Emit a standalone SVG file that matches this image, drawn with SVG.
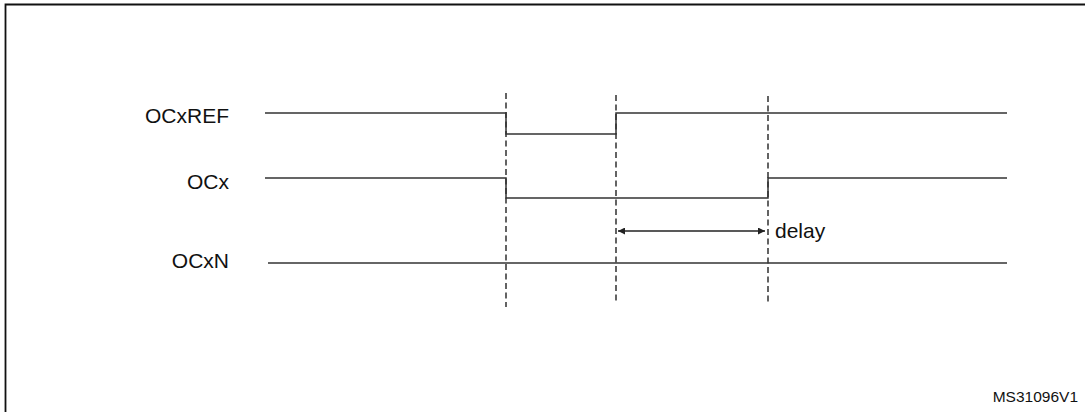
<svg xmlns="http://www.w3.org/2000/svg" width="1085" height="412" viewBox="0 0 1085 412">
<style>
.sig{fill:none;stroke:#333;stroke-width:1.5}
.dash{fill:none;stroke:#222;stroke-width:1.4;stroke-dasharray:6 3.5}
.lbl{font-family:"Liberation Sans",Arial,sans-serif;font-size:21px;fill:#111}
.ref{font-family:"Liberation Sans",Arial,sans-serif;font-size:15.5px;fill:#111}
</style>
<defs>
<marker id="ah" viewBox="0 0 10 10" refX="10" refY="5" markerWidth="9" markerHeight="7" markerUnits="userSpaceOnUse" orient="auto-start-reverse">
<path d="M0,0 L10,5 L0,10 z" fill="#222"/>
</marker>
</defs>
<rect x="0" y="0" width="1085" height="412" fill="#fff"/>
<path d="M5.5,420 V4.5 H1095" fill="none" stroke="#111" stroke-width="1.8"/>
<g id="connectors">
<line class="dash" x1="506" y1="93" x2="506" y2="307"/>
<line class="dash" x1="616" y1="95" x2="616" y2="303"/>
<line class="dash" x1="768" y1="96" x2="768" y2="303"/>
<line x1="618" y1="231" x2="765" y2="231" stroke="#222" stroke-width="1.4" marker-start="url(#ah)" marker-end="url(#ah)"/>
</g>
<g id="OCxREF">
<text class="lbl" x="229" y="123" text-anchor="end">OCxREF</text>
<path class="sig" d="M265,113 H506 V134 H616 V113 H1007"/>
</g>
<g id="OCx">
<text class="lbl" x="229" y="189" text-anchor="end">OCx</text>
<path class="sig" d="M265,178 H506 V198 H768 V178 H1007"/>
</g>
<g id="OCxN">
<text class="lbl" x="229" y="268" text-anchor="end">OCxN</text>
<path class="sig" d="M268,263 H1007"/>
</g>
<g id="delay">
<text class="lbl" x="775" y="238">delay</text>
</g>
<g id="ref">
<text class="ref" x="1078" y="402" text-anchor="end">MS31096V1</text>
</g>
</svg>
